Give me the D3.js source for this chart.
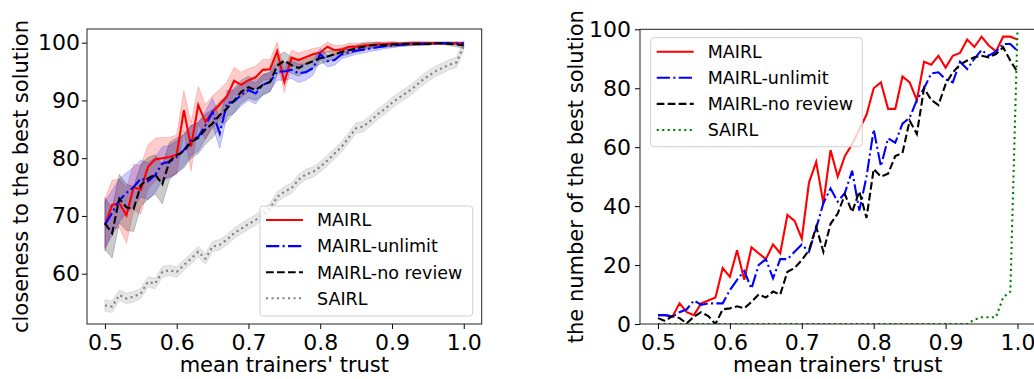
<!DOCTYPE html>
<html><head><meta charset="utf-8">
<script src="https://cdn.jsdelivr.net/npm/d3@7"></script>
<style>
body{margin:0;background:#fff}
text{font-family:"DejaVu Sans",sans-serif}
</style>
</head><body>
<svg id="c" width="1034" height="379"></svg>
<script>
const trust = [0.50,0.51,0.52,0.53,0.54,0.55,0.56,0.57,0.58,0.59,0.60,0.61,0.62,0.63,0.64,0.65,0.66,0.67,0.68,0.69,0.70,0.71,0.72,0.73,0.74,0.75,0.76,0.77,0.78,0.79,0.80,0.81,0.82,0.83,0.84,0.85,0.86,0.87,0.88,0.89,0.90,0.91,0.92,0.93,0.94,0.95,0.96,0.97,0.98,0.99,1.00];
const seriesNames = ["MAIRL","MAIRL-unlimit","MAIRL-no review","SAIRL"];
const xTicks = [0.5,0.6,0.7,0.8,0.9,1.0];
const leftYTicks = [60,70,80,90,100];
const rightYTicks = [0,20,40,60,80,100];
const leftYLabel = "closeness to the best solution";
const rightYLabel = "the number of the best solution";
const xLabel = "mean trainers' trust";

// Left panel: closeness (mean) and spread
const closeMAIRL = [68.4,71.9,72.2,70.1,75.0,74.5,78.5,79.8,80.0,80.2,80.6,88.3,82.0,89.2,86.3,88.0,89.3,90.7,93.4,92.7,93.5,94.0,95.3,95.4,98.5,93.2,97.4,97.0,97.5,98.0,98.3,99.3,98.7,98.8,99.3,99.3,99.5,99.6,99.7,99.7,99.8,99.8,99.8,99.9,99.9,99.9,99.9,99.9,99.9,99.9,99.9];
const closeUnlimit = [68.5,70.5,72.7,74.0,75.0,76.5,76.0,77.1,79.1,79.4,80.2,81.4,83.1,83.7,85.7,88.0,84.3,89.5,89.8,91.0,91.8,91.2,92.7,93.2,95.0,95.0,95.3,94.7,94.9,95.6,98.0,96.8,97.0,98.0,98.3,98.6,98.8,99.0,99.2,99.4,99.5,99.6,99.7,99.8,99.8,99.8,99.9,99.9,99.9,99.9,99.9];
const closeNoReview = [68.7,67.0,73.0,71.5,71.2,75.3,76.5,77.2,75.5,79.5,80.5,81.2,82.8,83.5,85.0,86.0,87.5,88.6,90.0,91.5,92.3,91.8,92.7,93.2,96.0,96.9,96.1,95.6,96.3,96.8,97.3,97.6,98.0,98.4,98.7,99.0,99.3,99.5,99.6,99.6,99.7,99.7,99.8,99.8,99.8,99.8,99.9,99.9,99.8,99.7,99.5];
const closeSAIRL = [54.5,54.3,56.3,55.7,56.0,56.6,58.6,58.3,60.3,60.6,60.3,61.5,62.6,63.8,62.6,64.7,65.0,65.9,67.0,67.8,68.6,69.3,70.2,71.3,73.3,74.2,74.8,76.3,77.2,77.6,78.5,79.6,80.8,82.0,83.6,85.2,85.5,86.5,87.6,88.5,89.6,90.5,91.3,92.2,93.3,94.2,95.0,95.6,96.2,96.6,99.5];
const stdMAIRL = [4.5,4.3,4.2,4.8,4.0,4.2,3.8,3.6,3.6,3.4,3.4,3.4,4.2,3.2,3.0,2.8,2.6,2.5,2.3,2.2,2.0,1.9,1.8,1.7,1.6,1.8,1.3,1.2,1.1,1.0,0.9,0.8,0.8,0.7,0.6,0.6,0.5,0.5,0.4,0.4,0.4,0.3,0.3,0.3,0.3,0.3,0.2,0.2,0.2,0.2,0.2];
const stdUnlimit = [4.0,3.9,3.7,3.5,3.4,3.2,3.2,3.0,2.9,2.8,2.8,2.7,2.6,2.5,2.4,2.4,2.6,2.2,2.0,1.9,1.8,1.8,1.7,1.6,1.5,1.5,1.5,1.6,1.4,1.2,1.0,1.0,0.9,0.8,0.7,0.6,0.6,0.5,0.5,0.4,0.4,0.3,0.3,0.3,0.2,0.2,0.2,0.2,0.2,0.2,0.2];
const stdNoReview = [4.5,4.3,4.2,4.0,3.9,3.6,3.6,3.4,3.4,3.2,3.0,2.9,2.8,2.7,2.6,2.4,2.3,2.2,2.1,2.0,1.9,1.8,1.8,1.7,1.6,1.5,1.4,1.4,1.3,1.2,1.0,0.9,0.8,0.7,0.7,0.6,0.6,0.5,0.5,0.4,0.4,0.3,0.3,0.3,0.3,0.2,0.2,0.2,0.3,0.4,0.5];
const stdSAIRL = [1.0,1.0,0.9,0.9,0.9,0.9,0.9,0.9,0.9,0.9,0.9,0.9,0.9,0.9,0.9,0.9,0.9,0.9,0.9,0.9,0.9,0.9,0.9,0.9,0.9,0.9,0.9,0.9,0.9,0.9,0.9,0.9,0.9,0.9,0.9,0.9,0.9,0.9,0.9,0.9,0.9,0.9,0.9,0.9,0.9,0.9,0.9,0.9,0.9,0.9,0.9];

// Right panel: number of best solution
const countMAIRL = [3,3,2.5,7,4,3,7,8,9,19,16,25,15,26,24,22,27,24,37,35,29,48,55,41,59,50,57,61,66,71,80,82,73,73,84,82,76,89,88,91,87,91,92,96.5,94,97.5,94.5,92.5,97.5,97.5,96.5];
const countUnlimit = [3,3,2.5,4,5,8,6.5,7,7,7,11.5,15,18,12,20,22,15.5,22,22,24.5,27,24.5,32.5,41,46,41.5,44.5,52,38.5,50,66,53.5,63,61.5,68,70,76,80,85,85.4,83,82,89,86.5,90,93,91,92.5,95,95,92.7];
const countNoReview = [2,1,2.7,2,0.2,2.5,4,2.7,0,5,5.3,6,5.3,7.5,10,9,11,10,17.7,19,21.7,25,33,24.5,34,37.5,44,38,45,36,52.6,50,51,57,58,69,64.5,80,76,74.3,81.4,85.4,88,89.4,90.5,91,90.5,91.6,93.9,89.4,85.4];
const countSAIRL = [0,0,0,0,0,0,0,0,0,0,0,0,0,0,0,0,0,0,0,0,0,0,0,0,0,0,0,0,0,0,0,0,0,0,0,0,0,0,0,0,0,0,0,0,1.5,2.3,2.3,2.3,9,11,100];

const colors = ["#ff0000","#0000ff","#000000","#808080"];
const colorsRight = ["#ff0000","#0000ff","#000000","#008000"];
const dashes = [null,"13.3,3.3,2.1,3.3","7.7,3.3","2.1,3.4"];

const svg = d3.select("#c");
svg.append("rect").attr("width",1034).attr("height",379).attr("fill","#fff");

function panel(opts){
  const {x0,x1,y0,y1,yDomain,yTicks,means,stds,cols,yLabel,yLabX,legendBox} = opts;
  const x = d3.scaleLinear().domain([0.475,1.025]).range([x0,x1]);
  const y = d3.scaleLinear().domain(yDomain).range([y1,y0]);
  const g = svg.append("g");
  const clipId = "clip"+Math.round(x0);
  g.append("clipPath").attr("id",clipId).append("rect").attr("x",x0).attr("y",y0).attr("width",x1-x0).attr("height",y1-y0);
  const plot = g.append("g").attr("clip-path",`url(#${clipId})`);
  if(stds){
    stds.forEach((s,i)=>{
      const area = d3.area().x((d,j)=>x(trust[j])).y0((d,j)=>y(means[i][j]-s[j])).y1((d,j)=>y(means[i][j]+s[j]));
      plot.append("path").attr("d",area(s)).attr("fill",cols[i]).attr("fill-opacity",0.2).attr("stroke",cols[i]).attr("stroke-opacity",0.2).attr("stroke-width",1);
    });
  }
  means.forEach((m,i)=>{
    const line = d3.line().x((d,j)=>x(trust[j])).y(d=>y(d));
    plot.append("path").attr("d",line(m)).attr("fill","none").attr("stroke",cols[i]).attr("stroke-width",2.1)
      .attr("stroke-dasharray",dashes[i]);
  });
  const xa = g.append("g").attr("transform",`translate(0,${y1})`).call(d3.axisBottom(x).tickValues(xTicks).tickFormat(d3.format(".1f")).tickSize(5).tickPadding(5).tickSizeOuter(0));
  const ya = g.append("g").attr("transform",`translate(${x0},0)`).call(d3.axisLeft(y).tickValues(yTicks).tickFormat(d3.format("d")).tickSize(5).tickPadding(opts.yPad).tickSizeOuter(0));
  [xa,ya].forEach(a=>{
    a.select(".domain").remove();
    a.selectAll("line").attr("stroke","#000").attr("stroke-width",1);
    a.selectAll("text").attr("font-size",22).attr("fill","#000").style("font-family","DejaVu Sans");
  });
  g.append("rect").attr("x",x0).attr("y",y0).attr("width",x1-x0).attr("height",y1-y0)
    .attr("fill","none").attr("stroke","#222").attr("stroke-width",1);
  g.append("text").attr("x",(x0+x1)/2).attr("y",372).attr("text-anchor","middle").attr("font-size",21).text(xLabel);
  g.append("text").attr("transform",`translate(${yLabX},${(y0+y1)/2}) rotate(-90)`).attr("text-anchor","middle").attr("font-size",21).text(yLabel);
  const [lx,ly,lw,lh] = legendBox;
  const lg = g.append("g");
  lg.append("rect").attr("x",lx).attr("y",ly).attr("width",lw).attr("height",lh).attr("rx",3)
    .attr("fill","#fff").attr("fill-opacity",0.8).attr("stroke","#d0d0d0").attr("stroke-width",1);
  seriesNames.forEach((n,i)=>{
    const cy = ly+14+i*26.1;
    lg.append("line").attr("x1",lx+6).attr("x2",lx+43).attr("y1",cy).attr("y2",cy)
      .attr("stroke",cols[i]).attr("stroke-width",2.1).attr("stroke-dasharray",dashes[i]);
    lg.append("text").attr("x",lx+57).attr("y",cy).attr("dy","0.36em").attr("font-size",17.5).text(n);
  });
}

panel({x0:87,x1:481.7,y0:29,y1:324,yDomain:[51.29,102.37],yTicks:leftYTicks,
  means:[closeMAIRL,closeUnlimit,closeNoReview,closeSAIRL],
  stds:[stdMAIRL,stdUnlimit,stdNoReview,stdSAIRL],cols:colors,yLabel:leftYLabel,yLabX:28,
  legendBox:[260,206,212.7,110],yPad:2});
panel({x0:640,x1:1035.5,y0:29.3,y1:324,yDomain:[0,100],yTicks:rightYTicks,
  means:[countMAIRL,countUnlimit,countNoReview,countSAIRL],
  stds:null,cols:colorsRight,yLabel:rightYLabel,yLabX:583,
  legendBox:[650.7,37.7,211.6,109],yPad:4});
</script>
</body></html>
